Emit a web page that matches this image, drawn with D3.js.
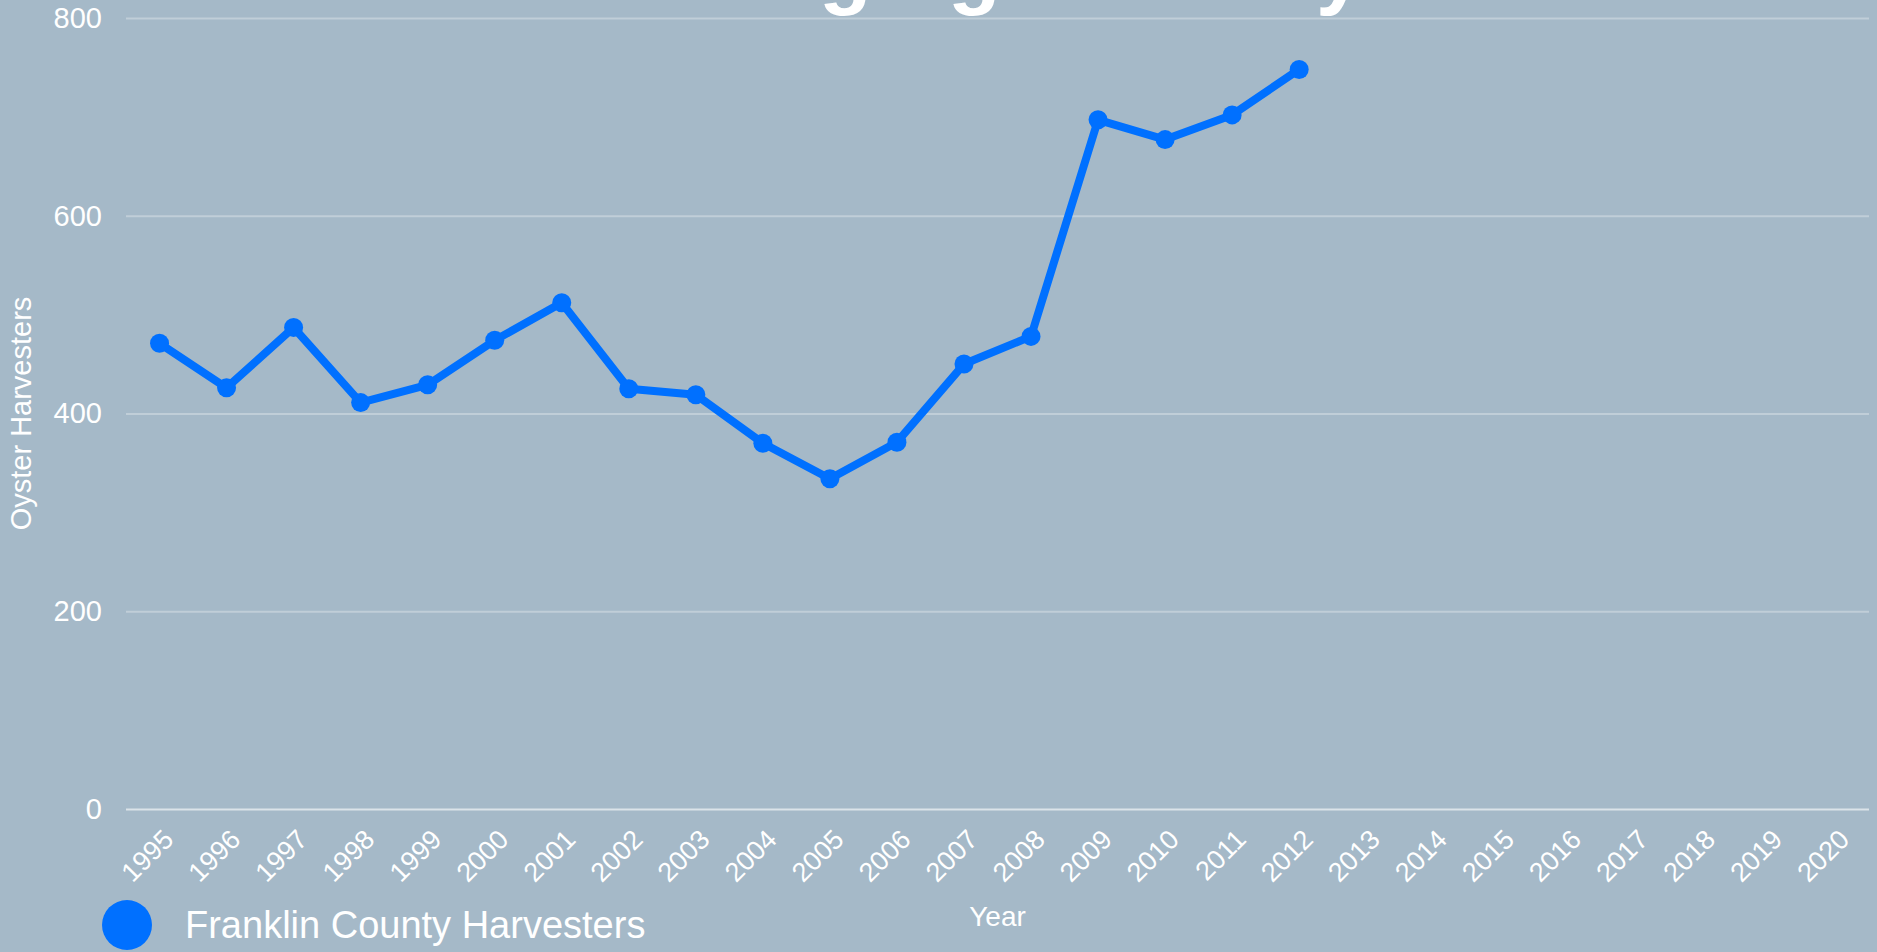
<!DOCTYPE html>
<html>
<head>
<meta charset="utf-8">
<script src="https://cdn.jsdelivr.net/npm/d3@7"></script>
<style>
  html, body { margin: 0; padding: 0; background: #a5b9c8; overflow: hidden; }
  svg { display: block; font-family: "Liberation Sans", Arial, Helvetica, sans-serif; }
  .grid line { stroke: rgba(255, 255, 255, 0.3); stroke-width: 2; }
  .grid .domain { display: none; }
</style>
</head>
<body>
<div id="chart"></div>
<script>
const years = ["1995", "1996", "1997", "1998", "1999", "2000", "2001", "2002", "2003",
  "2004", "2005", "2006", "2007", "2008", "2009", "2010", "2011", "2012", "2013",
  "2014", "2015", "2016", "2017", "2018", "2019", "2020"];
const harvesters = [471, 426, 487, 411, 429, 474, 512, 425, 419, 370, 334, 371, 450,
  478, 697, 677, 702, 748];
const y_ticks = [0, 200, 400, 600, 800];
const series_name = "Franklin County Harvesters";
const title_text = "A Changing Industry";

function build_line_chart(svg, data) {
  const width = 1877;
  const height = 952;
  const margin = { left: 126, right: 8, top: 18, bottom: 143 };

  const x = d3
    .scalePoint()
    .domain(years)
    .range([margin.left, width - margin.right])
    .padding(0.5);

  const y = d3
    .scaleLinear()
    .domain([0, 800])
    .range([height - margin.bottom, margin.top]);

  // gridlines + y labels
  const grid = svg
    .append("g")
    .attr("class", "grid")
    .attr("transform", `translate(${margin.left}, 0)`)
    .call(
      d3
        .axisLeft(y)
        .tickValues(y_ticks)
        .tickSize(-(width - margin.left - margin.right))
        .tickPadding(24)
    );
  grid.selectAll("text")
    .attr("fill", "#fff")
    .style("font-size", "29px")
    .style("font-family", "Liberation Sans, Arial, sans-serif");
  grid.selectAll("line")
    .filter((d) => d === 0)
    .style("stroke", "rgba(255, 255, 255, 0.6)");

  // x axis, labels only
  const xg = svg
    .append("g")
    .attr("transform", `translate(0,${height - margin.bottom})`)
    .call(d3.axisBottom(x).tickSize(0).tickPadding(0));
  xg.select(".domain").remove();
  xg.selectAll("text")
    .attr("fill", "#fff")
    .attr("y", 0)
    .attr("dy", 0)
    .attr("transform", "translate(15, 32) rotate(-45)")
    .style("text-anchor", "end")
    .style("font-size", "27px")
    .style("font-family", "Liberation Sans, Arial, sans-serif");

  // axis titles
  svg.append("text")
    .attr("transform", `translate(31, ${(margin.top + height - margin.bottom) / 2}) rotate(-90)`)
    .attr("text-anchor", "middle")
    .attr("fill", "#fff")
    .style("font-size", "29px")
    .text("Oyster Harvesters");

  svg.append("text")
    .attr("x", (margin.left + width - margin.right) / 2)
    .attr("y", 926)
    .attr("text-anchor", "middle")
    .attr("fill", "#fff")
    .style("font-size", "28px")
    .text("Year");

  // title (mostly above the visible area)
  svg.append("text")
    .attr("x", width / 2 + 4)
    .attr("y", -2)
    .attr("text-anchor", "middle")
    .attr("fill", "#fff")
    .style("font-size", "86px")
    .style("font-weight", "bold")
    .text(title_text);

  // line
  const line = d3
    .line()
    .x((d) => x(d.year))
    .y((d) => y(d.value));

  svg.append("path")
    .datum(data)
    .attr("fill", "none")
    .attr("stroke", "#0070ff")
    .attr("stroke-width", 8)
    .attr("stroke-linejoin", "round")
    .attr("d", line);

  svg.selectAll("circle.dot")
    .data(data)
    .enter()
    .append("circle")
    .classed("dot", true)
    .attr("cx", (d) => x(d.year))
    .attr("cy", (d) => y(d.value))
    .attr("r", 9.5)
    .attr("fill", "#0070ff");

  // legend
  const legend = svg.append("g").attr("transform", "translate(127, 925)");
  legend.append("circle").attr("r", 25).attr("fill", "#0070ff");
  legend.append("text")
    .attr("x", 58)
    .attr("dy", "0.35em")
    .attr("fill", "#fff")
    .style("font-size", "38px")
    .text(series_name);
}

const svg = d3
  .select("#chart")
  .append("svg")
  .attr("width", 1877)
  .attr("height", 952);

const data = harvesters.map((v, i) => ({ year: years[i], value: v }));
build_line_chart(svg, data);
</script>
</body>
</html>
